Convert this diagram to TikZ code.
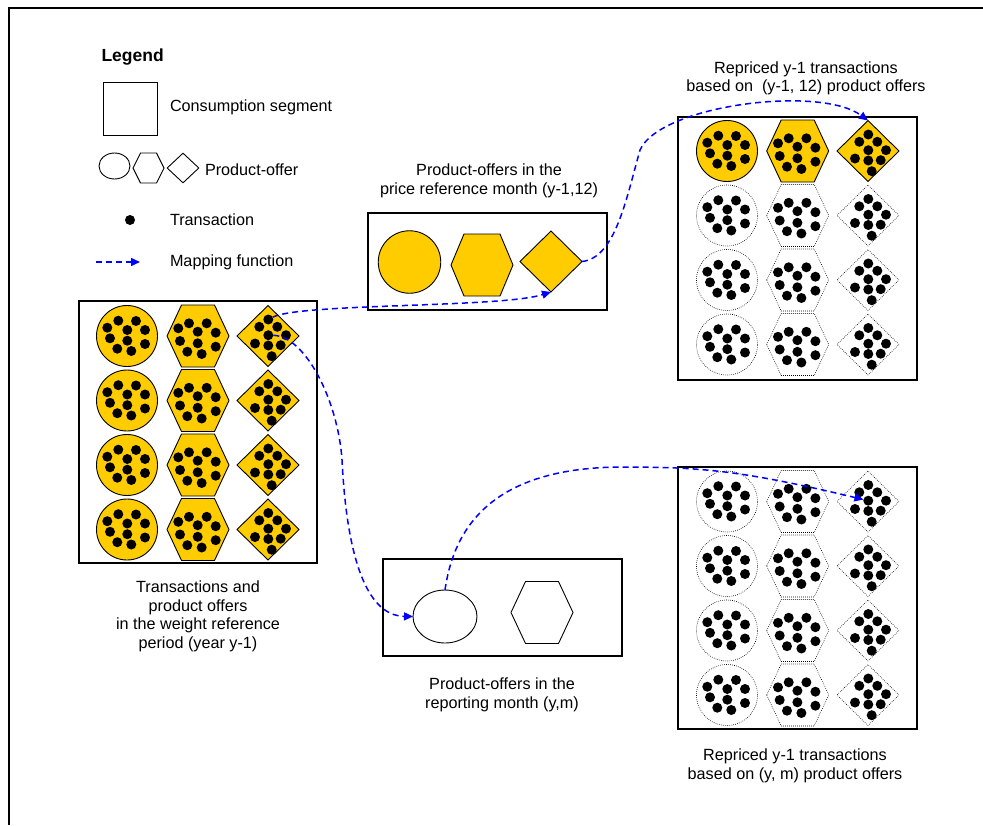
\documentclass[tikz,border=0pt]{standalone}
\usepackage{fontspec}
\setmainfont{Liberation Sans}
\usetikzlibrary{shapes.geometric,arrows.meta}
\definecolor{yel}{HTML}{FFCC00}
\definecolor{mapblue}{HTML}{0000FF}
\tikzset{
  shp/.style={draw=black,line width=0.9pt,fill=yel},
  yelcell/.style={shp/.style={draw=black,line width=0.9pt,fill=yel}},
  dotcell/.style={shp/.style={draw=black,line width=0.6pt,dash pattern=on 0.7pt off 1.3pt,fill=white}},
  plaincell/.style={shp/.style={draw=black,line width=0.9pt}},
  tdot/.style={circle,fill=black,inner sep=0pt,outer sep=0pt,minimum size=10pt},
  segbox/.style={draw=black,line width=1.2pt,fill=none},
  map/.style={draw=mapblue,line width=1.5pt,dash pattern=on 6pt off 4pt,-{Triangle[length=9pt,width=8pt]}},
  lbl/.style={font=\fontsize{16.2}{18.6}\selectfont,align=center,inner sep=0pt,outer sep=0pt},
  circshape/.style={circle,shp,inner sep=0pt,outer sep=0pt},
  diashape/.style={diamond,shp,inner sep=0pt,outer sep=0pt},
  hexshape/.pic={
    \coordinate (-s) at (0,0);
    \path[shp] (-31,0) -- (-16.5,-31) -- (16.5,-31) -- (31,0) -- (16.5,31) -- (-16.5,31) -- cycle;
  },
  circcell/.pic={
    \node[circshape,minimum size=61pt] (-s) at (0,0) {};
    \foreach \a/\b [count=\i] in {-19.7/-8.3,-8.7/-15.3,9/-15,18/-6,0.3/-6,-17/2.3,0.3/4.7,18/8,-9.7/12.7,4.3/15}
      \node[tdot] (-d\i) at (\a,\b) {};
  },
  hexcell/.pic={
    \coordinate (-s) at (0,0);
    \path[shp] (-31,0) -- (-16.5,-31) -- (16.5,-31) -- (31,0) -- (16.5,31) -- (-16.5,31) -- cycle;
    \foreach \a/\b [count=\i] in {-19.7/-7.7,-9/-12.7,8.7/-12.7,17.7/-3.3,-0.3/-4.3,-18/5,-0.3/7.3,17.7/10.7,-10.7/15.7,3.7/18}
      \node[tdot] (-d\i) at (\a,\b) {};
  },
  diacell/.pic={
    \node[diashape,minimum width=62pt,minimum height=61pt] (-s) at (0,0) {};
    \foreach \a/\b [count=\i] in {0.3/-16.5,-8.7/-9.2,9.3/-9.2,0.3/-0.8,18/-0.8,-13/7.5,0.3/9.5,12.7/9.2,3.7/20.2}
      \node[tdot] (-d\i) at (\a,\b) {};
  },
}
\begin{document}
\begin{tikzpicture}[x=1pt,y=-1pt]
\useasboundingbox (0,0) rectangle (983,825);
% outer frame (cut at right and bottom)
\draw[line width=2pt] (983,7.5) -- (8.5,7.5) -- (8.5,825);

% ---------------- Legend ----------------
\node[lbl,font=\bfseries\fontsize{17.5}{20}\selectfont,anchor=base west] (legend) at (101.5,61) {Legend};
\node[segbox,line width=1pt,minimum width=54pt,minimum height=53pt,inner sep=0pt] (lgsq) at (130,108.5) {};
\node[lbl,anchor=base west] (lgsqt) at (170,111) {Consumption segment};
\node[ellipse,draw=black,line width=0.9pt,minimum width=31pt,minimum height=26pt,inner sep=0pt] (lgel) at (114.5,166) {};
\coordinate (lghx) at (148.5,168);
\draw[line width=0.9pt] (133,168) -- (140.5,153) -- (156.5,153) -- (164,168) -- (156.5,183) -- (140.5,183) -- cycle;
\node[diamond,draw=black,line width=0.9pt,minimum width=32pt,minimum height=30pt,inner sep=0pt] (lgdi) at (183,168) {};
\node[lbl,anchor=base west] (lgpot) at (205,175) {Product-offer};
\node[tdot] (lgdot) at (130,220) {};
\node[lbl,anchor=base west] (lgdott) at (170,225) {Transaction};
\coordinate (lga) at (96,262);
\coordinate (lgb) at (140,262);
\draw[map] (lga) -- (lgb);
\node[lbl,anchor=base west] (lgmapt) at (170,266.7) {Mapping function};

% ---------------- Weight reference period box ----------------
\node[segbox,minimum width=238pt,minimum height=262pt,inner sep=0pt] (wbox) at (198,432) {};
\foreach \r/\y in {1/336,2/400.5,3/465,4/529.5}{
  \pic[yelcell] (L\r1) at (127,\y) {circcell};
  \pic[yelcell] (L\r2) at (198,\y) {hexcell};
  \pic[yelcell] (L\r3) at (268,\y) {diacell};
}
\node[lbl,anchor=north] (wtitle) at (198,581) {Transactions and\\product offers\\in the weight reference\\period (year y-1)};

% ---------------- Price reference month box ----------------
\node[lbl,anchor=north] (ptitle) at (489,164) {Product-offers in the\\price reference month (y-1,12)};
\node[segbox,minimum width=239pt,minimum height=97pt,inner sep=0pt] (pbox) at (487.5,261.5) {};
\node[circshape,minimum size=62.5pt] (P1) at (409.5,262) {};
\begin{scope}[shift={(482,265)}]
  \coordinate (P2) at (0,0);
  \path[shp] (-31,0) -- (-18,-31) -- (18,-31) -- (31,0) -- (18,31) -- (-18,31) -- cycle;
\end{scope}
\node[diashape,minimum width=62pt,minimum height=61pt] (P3) at (551,261.5) {};

% ---------------- Repriced (y-1,12) box ----------------
\node[lbl,anchor=north] (rtitle) at (806,61.5) {Repriced y-1 transactions\\based on\ \ (y-1, 12) product offers};
\node[segbox,minimum width=239pt,minimum height=263pt,inner sep=0pt] (rbox) at (797.5,248.5) {};
\pic[yelcell] (R11) at (727,151) {circcell};
\pic[yelcell] (R12) at (797.7,151) {hexcell};
\pic[yelcell] (R13) at (868,151) {diacell};
\foreach \r/\y in {2/215.5,3/280,4/344.5}{
  \pic[dotcell] (R\r1) at (727,\y) {circcell};
  \pic[dotcell] (R\r2) at (797.7,\y) {hexcell};
  \pic[dotcell] (R\r3) at (868,\y) {diacell};
}

% ---------------- Reporting month box ----------------
\node[segbox,minimum width=239pt,minimum height=97pt,inner sep=0pt] (qbox) at (502.5,607.5) {};
\node[ellipse,draw=black,line width=0.9pt,inner sep=0pt,outer sep=0pt,minimum width=64pt,minimum height=53pt] (Q1) at (445,616.5) {};
\pic[plaincell] (Q2) at (542,612.5) {hexshape};
\node[lbl,anchor=north] (qtitle) at (502,678) {Product-offers in the\\reporting month (y,m)};

% ---------------- Repriced (y,m) box ----------------
\node[segbox,minimum width=239pt,minimum height=262pt,inner sep=0pt] (bbox) at (797.5,598) {};
\foreach \r/\y in {1/501.5,2/566,3/630.5,4/695}{
  \pic[dotcell] (B\r1) at (727,\y) {circcell};
  \pic[dotcell] (B\r2) at (797.7,\y) {hexcell};
  \pic[dotcell] (B\r3) at (868,\y) {diacell};
}
\node[lbl,anchor=north] (btitle) at (795,749) {Repriced y-1 transactions\\based on (y, m) product offers};

% ---------------- Mapping functions ----------------
\draw[map] (L13-d1) .. controls (300,303) and (500,308) .. (P3.south);
\draw[map] (P3.east) .. controls (615,258) and (626,200) .. (640,150)
                     .. controls (660,105) and (820,85) .. (R13-s.north);
\draw[map] (L13-d4) .. controls (305,336) and (338,400) .. (342,460)
                    .. controls (348,580) and (375,616) .. (Q1.west);
\draw[map] (Q1.north) .. controls (455,520) and (500,468) .. (620,467)
                      .. controls (700,467) and (740,470) .. (B13-d4);
\end{tikzpicture}
\end{document}
